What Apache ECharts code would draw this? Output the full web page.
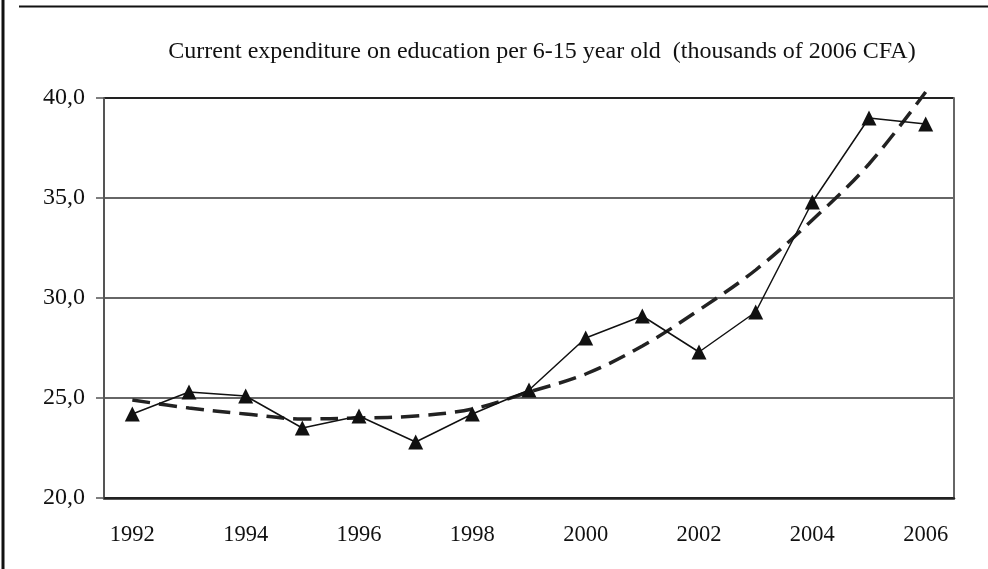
<!DOCTYPE html>
<html>
<head>
<meta charset="utf-8">
<script src="https://cdn.jsdelivr.net/npm/echarts@6/dist/echarts.min.js"></script>
<style>html,body{margin:0;padding:0;background:#fff;}#c{width:988px;height:569px;}</style>
</head>
<body>
<div id="c"></div>
<script>
var years = ['1992','1993','1994','1995','1996','1997','1998','1999','2000','2001','2002','2003','2004','2005','2006'];
var expenditure = [24.2, 25.3, 25.1, 23.5, 24.1, 22.8, 24.2, 25.4, 28.0, 29.1, 27.3, 29.3, 34.8, 39.0, 38.7];
var trend = [24.9, 24.5, 24.2, 23.95, 24.0, 24.1, 24.45, 25.3, 26.2, 27.6, 29.4, 31.4, 33.9, 36.7, 40.3];
var yTicks = {min: 20, max: 40, interval: 5};
var titleText = 'Current expenditure on education per 6-15 year old  (thousands of 2006 CFA)';

var chart = echarts.init(document.getElementById('c'), null, {renderer: 'canvas'});
var font = 'Liberation Serif';
chart.setOption({
  backgroundColor: '#fff',
  animation: false,
  title: {
    text: titleText,
    left: 537, top: 35, textAlign: 'center',
    textStyle: {fontFamily: font, fontSize: 24, fontWeight: 'normal', color: '#111'}
  },
  grid: {left: 104, right: 34, top: 98, bottom: 71},
  xAxis: {
    type: 'category',
    data: years,
    boundaryGap: true,
    axisLine: {lineStyle: {color: '#222', width: 2.5}},
    axisTick: {interval: 0, length: 8, lineStyle: {color: '#222', width: 1.5}},
    axisLabel: {interval: 1, margin: 26, fontFamily: font, fontSize: 22.5, color: '#111'},
    splitLine: {show: false}
  },
  yAxis: [{
    type: 'value',
    min: yTicks.min, max: yTicks.max, interval: yTicks.interval,
    axisLine: {show: true, lineStyle: {color: '#555', width: 2}},
    axisTick: {show: true, length: 8, lineStyle: {color: '#555', width: 1.5}},
    axisLabel: {margin: 19, fontFamily: font, fontSize: 24, color: '#111',
      formatter: function (v) { return v.toFixed(1).replace('.', ','); }},
    splitLine: {show: true, lineStyle: {color: ['#222', '#666', '#666', '#666', '#222'], width: 2}}
  }, {
    type: 'value', position: 'right',
    min: yTicks.min, max: yTicks.max, interval: yTicks.interval,
    axisLine: {show: true, lineStyle: {color: '#666', width: 2}},
    axisTick: {show: false}, axisLabel: {show: false}, splitLine: {show: false}
  }],
  series: [{
    type: 'line',
    data: trend,
    smooth: 0.35,
    symbol: 'none',
    clip: false,
    lineStyle: {color: '#222', width: 3.5, type: [18, 9]},
    z: 2
  }, {
    type: 'line',
    data: expenditure,
    symbol: 'triangle',
    symbolSize: 15,
    itemStyle: {color: '#111'},
    lineStyle: {color: '#111', width: 1.5},
    z: 3
  }],
  graphic: [
    {type: 'line', shape: {x1: 3, y1: 0, x2: 3, y2: 569}, style: {stroke: '#111', lineWidth: 3}},
    {type: 'line', shape: {x1: 19, y1: 6.5, x2: 988, y2: 6.5}, style: {stroke: '#111', lineWidth: 2}}
  ]
});
</script>
</body>
</html>
